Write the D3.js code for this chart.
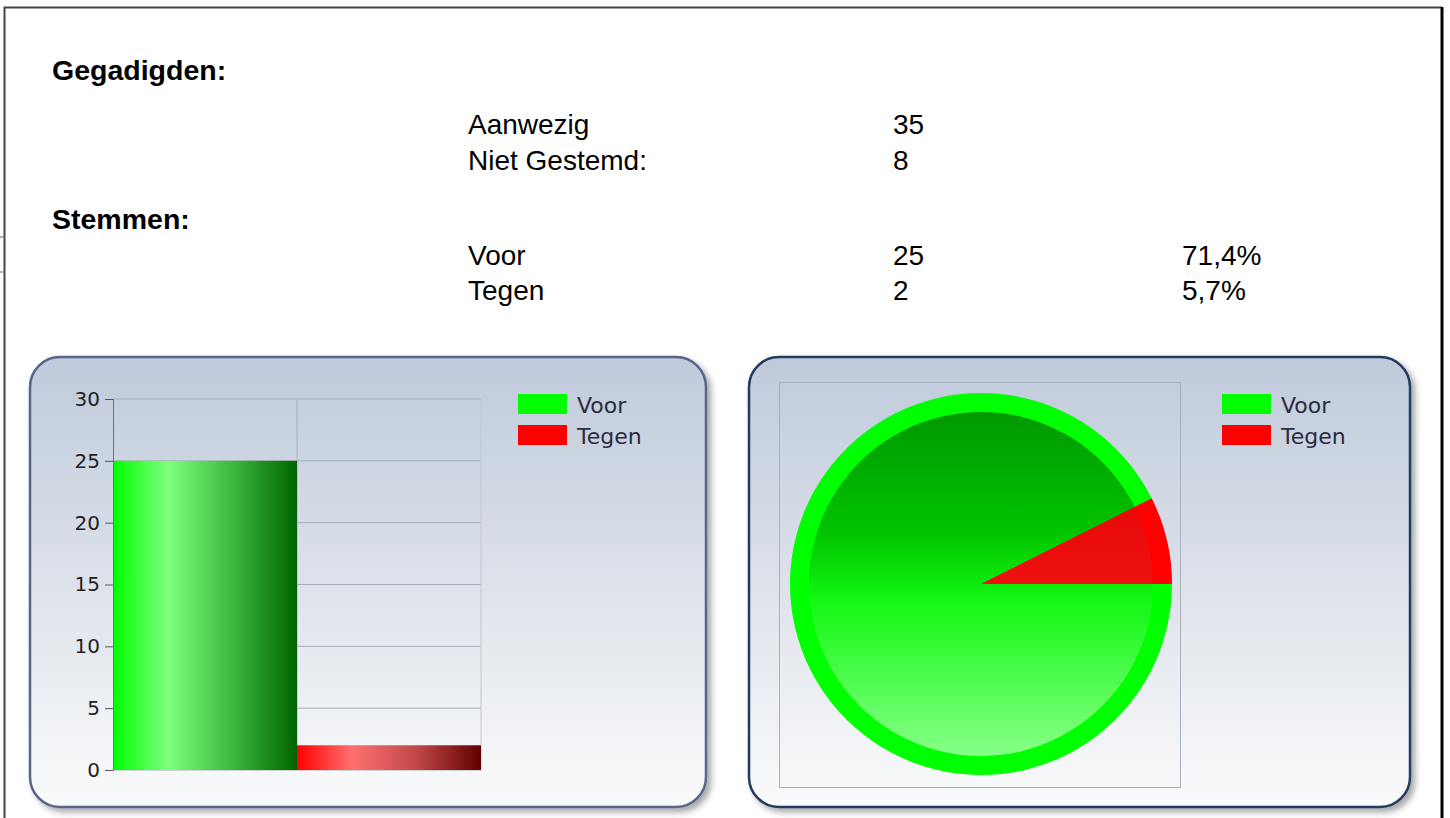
<!DOCTYPE html>
<html>
  <head>
    <meta charset="utf-8">
    <title>Stemming</title>
    <script src="https://cdn.jsdelivr.net/npm/d3@7"></script>
    <style>
      body { margin: 0; background: #fff; }
      svg { display: block; }
    </style>
  </head>
  <body>
    <svg id="chart" width="1450" height="818"></svg>

    <script>
      // data
      categories = ["Voor", "Tegen"];
      votes = [25, 2];
      percentages = ["71,4%", "5,7%"];
      attendance = ["Aanwezig", "Niet Gestemd:"];
      attendanceValues = [35, 8];
      yTicks = [0, 5, 10, 15, 20, 25, 30];
      colors = ["#00ff00", "#ff0000"];

      svg = d3.select("#chart");
      defs = svg.append("defs");

      // page frame
      svg.append("path")
        .attr("d", "M4.5,818 V7.5 H1442")
        .attr("fill", "none").attr("stroke", "#444").attr("stroke-width", 2);
      svg.append("line")
        .attr("x1", 1442).attr("x2", 1442).attr("y1", 7).attr("y2", 818)
        .attr("stroke", "#000").attr("stroke-width", 3);
      [237, 272].forEach(function(y) {
        svg.append("line").attr("x1", 0).attr("x2", 5).attr("y1", y).attr("y2", y)
          .attr("stroke", "#666").attr("stroke-width", 1);
      });

      // text block
      font = "'Liberation Sans', Arial, sans-serif";
      function txt(x, y, s, bold) {
        svg.append("text").attr("x", x).attr("y", y).text(s)
          .attr("font-family", font).attr("font-size", bold ? 28.5 : 28)
          .attr("font-weight", bold ? "bold" : "normal").attr("fill", "#000");
      }
      txt(52, 80, "Gegadigden:", true);
      attendance.forEach(function(d, i) {
        txt(468, 134 + i * 36, d);
        txt(893, 134 + i * 36, attendanceValues[i]);
      });
      txt(52, 229, "Stemmen:", true);
      categories.forEach(function(d, i) {
        txt(468, 265 + i * 35, d);
        txt(893, 265 + i * 35, votes[i]);
        txt(1182, 265 + i * 35, percentages[i]);
      });

      // gradients
      panelGrad = defs.append("linearGradient").attr("id", "panelGrad")
        .attr("x1", 0).attr("y1", 0).attr("x2", 0).attr("y2", 1);
      panelGrad.append("stop").attr("offset", 0).attr("stop-color", "#bfcadb");
      panelGrad.append("stop").attr("offset", 0.5).attr("stop-color", "#dde2ea");
      panelGrad.append("stop").attr("offset", 1).attr("stop-color", "#fafbfc");

      shadow = defs.append("filter").attr("id", "shadow")
        .attr("x", "-5%").attr("y", "-5%").attr("width", "115%").attr("height", "115%");
      shadow.append("feDropShadow").attr("dx", 4).attr("dy", 4)
        .attr("stdDeviation", 3).attr("flood-color", "#000").attr("flood-opacity", 0.35);

      barStops = [
        ["#00ff00", "#80ff80", "#3cb83c", "#006400"],
        ["#ff0000", "#ff7070", "#c04848", "#600000"]
      ];
      barStops.forEach(function(s, i) {
        g = defs.append("linearGradient").attr("id", "barGrad" + i)
          .attr("x1", 0).attr("y1", 0).attr("x2", 1).attr("y2", 0);
        [0, 0.3, 0.65, 1].forEach(function(o, j) {
          g.append("stop").attr("offset", o).attr("stop-color", s[j]);
        });
      });

      function panel(x, y, w, h, stroke) {
        svg.append("rect").attr("x", x).attr("y", y).attr("width", w).attr("height", h)
          .attr("rx", 30).attr("ry", 30)
          .attr("fill", "url(#panelGrad)").attr("stroke", stroke).attr("stroke-width", 2.5)
          .attr("filter", "url(#shadow)");
      }

      legendFont = "'DejaVu Sans', Tahoma, sans-serif";
      function legend(x, y) {
        categories.forEach(function(d, i) {
          svg.append("rect").attr("x", x).attr("y", y + i * 31).attr("width", 49).attr("height", 20)
            .attr("fill", colors[i]);
          svg.append("text").attr("x", x + 59).attr("y", y + i * 31 + 19).text(d)
            .attr("font-family", legendFont).attr("font-size", 22)
            .attr("fill", "#2b2b3c");
        });
      }

      // bar chart
      panel(30, 357, 676, 450, "#56658a");

      plot = { left: 113, right: 481, top: 399, bottom: 770 };
      x = d3.scaleBand().domain(categories).range([plot.left, plot.right]);
      y = d3.scaleLinear().domain([0, 30]).range([plot.bottom, plot.top]);

      grid = svg.append("g");
      grid.selectAll("line.h").data(yTicks).enter().append("line")
        .attr("x1", plot.left).attr("x2", plot.right)
        .attr("y1", function(d) { return y(d); }).attr("y2", function(d) { return y(d); })
        .attr("stroke", "#a7adb8").attr("stroke-width", 1);
      grid.selectAll("line.v").data([categories[1]]).enter().append("line")
        .attr("x1", function(d) { return x(d); }).attr("x2", function(d) { return x(d); })
        .attr("y1", plot.top).attr("y2", plot.bottom)
        .attr("stroke", "#a7adb8").attr("stroke-width", 1);
      grid.append("line").attr("x1", plot.right).attr("x2", plot.right)
        .attr("y1", plot.top).attr("y2", plot.bottom)
        .attr("stroke", "#c2c7cf").attr("stroke-width", 1);

      svg.selectAll("rect.bar").data(votes).enter().append("rect")
        .attr("class", "bar")
        .attr("x", function(d, i) { return x(categories[i]); })
        .attr("y", function(d) { return y(d); })
        .attr("width", x.bandwidth())
        .attr("height", function(d) { return y(0) - y(d); })
        .attr("fill", function(d, i) { return "url(#barGrad" + i + ")"; });

      yAxis = svg.append("g").attr("transform", "translate(" + plot.left + ",0)")
        .call(d3.axisLeft(y).tickValues(yTicks).tickSize(8).tickPadding(5));
      yAxis.select(".domain").attr("stroke", "#6b7280");
      yAxis.selectAll(".tick line").attr("stroke", "#555");
      yAxis.selectAll("text").attr("font-family", legendFont)
        .attr("font-size", 20).attr("fill", "#222");

      legend(518, 394);

      // pie chart
      panel(749, 357, 661, 450, "#213a60");
      svg.append("rect").attr("x", 779.5).attr("y", 382.5).attr("width", 401).attr("height", 405)
        .attr("fill", "none").attr("stroke", "#a9b0bd").attr("stroke-width", 1);

      cx = 981; cy = 584; rOuter = 191; rInner = 172;

      innerGrad = defs.append("linearGradient").attr("id", "pieGrad0")
        .attr("gradientUnits", "userSpaceOnUse")
        .attr("x1", 0).attr("y1", -rInner).attr("x2", 0).attr("y2", rInner);
      [[0, "#009800"], [0.35, "#00c400"], [0.55, "#14f814"], [1, "#88ff88"]].forEach(function(s) {
        innerGrad.append("stop").attr("offset", s[0]).attr("stop-color", s[1]);
      });
      redGrad = defs.append("linearGradient").attr("id", "pieGrad1")
        .attr("gradientUnits", "userSpaceOnUse")
        .attr("x1", 0).attr("y1", -rInner).attr("x2", 0).attr("y2", rInner);
      redGrad.append("stop").attr("offset", 0).attr("stop-color", "#e00000");
      redGrad.append("stop").attr("offset", 1).attr("stop-color", "#ff2020");

      pie = d3.pie().sort(null).startAngle(Math.PI / 2).endAngle(Math.PI / 2 + 2 * Math.PI);
      slices = pie(votes);
      pieG = svg.append("g").attr("transform", "translate(" + cx + "," + cy + ")");

      pieG.selectAll("path.outer").data(slices).enter().append("path")
        .attr("d", d3.arc().innerRadius(0).outerRadius(rOuter))
        .attr("fill", function(d, i) { return colors[i]; });
      pieG.selectAll("path.inner").data(slices).enter().append("path")
        .attr("d", d3.arc().innerRadius(0).outerRadius(rInner))
        .attr("fill", function(d, i) { return "url(#pieGrad" + i + ")"; });

      legend(1222, 394);
    </script>
  </body>
</html>
